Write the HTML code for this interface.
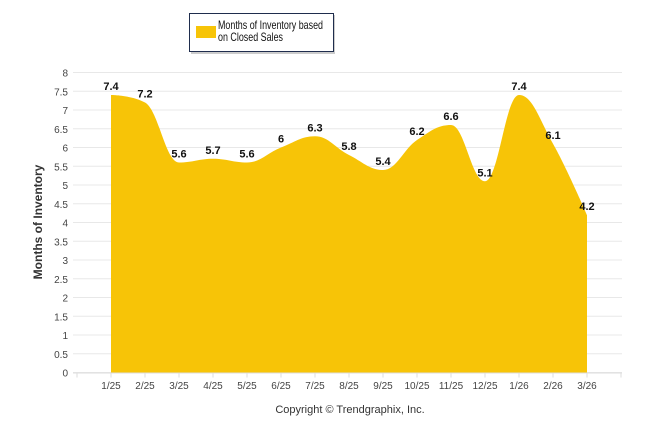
<!DOCTYPE html>
<html><head><meta charset="utf-8"><style>
body{margin:0;background:#fff;width:646px;height:434px;overflow:hidden;font-family:"Liberation Sans",sans-serif}
</style></head><body>
<svg width="646" height="434" xmlns="http://www.w3.org/2000/svg">
<g>
<rect x="191" y="15" width="144" height="39" fill="#ccc"/>
<rect x="189.5" y="13.5" width="144" height="38" fill="#fff" stroke="#1f2d4d" stroke-width="1"/>
<rect x="196" y="26" width="20" height="12" fill="#f7c407"/>
<text x="218" y="29" font-size="12" fill="#111" textLength="105" lengthAdjust="spacingAndGlyphs">Months of Inventory based</text>
<text x="218" y="41" font-size="12" fill="#111" textLength="65" lengthAdjust="spacingAndGlyphs">on Closed Sales</text>
</g>
<g id="grid"></g>
<path id="area" fill="#f7c407"/>
<g id="labels"></g>
<g id="xaxis"></g>
<g id="yaxis"></g>
<text x="42" y="222" font-size="12" font-weight="bold" fill="#333" text-anchor="middle" transform="rotate(-90 42 222)">Months of Inventory</text>
<text x="350" y="413" font-size="11" fill="#333" text-anchor="middle">Copyright © Trendgraphix, Inc.</text>
</svg>
<script>
const categories=["1/25","2/25","3/25","4/25","5/25","6/25","7/25","8/25","9/25","10/25","11/25","12/25","1/26","2/26","3/26"];
const values=[7.4,7.2,5.6,5.7,5.6,6,6.3,5.8,5.4,6.2,6.6,5.1,7.4,6.1,4.2];
const yTicks=[0,0.5,1,1.5,2,2.5,3,3.5,4,4.5,5,5.5,6,6.5,7,7.5,8];
const NS="http://www.w3.org/2000/svg";
const x0=77,step=34,yZero=372.5,perUnit=37.5;
const xs=i=>x0+step*(i+1);
const ys=v=>yZero-v*perUnit;
function mk(t,a,p){const e=document.createElementNS(NS,t);for(const k in a)e.setAttribute(k,a[k]);p.appendChild(e);return e;}
const grid=document.getElementById('grid'),ya=document.getElementById('yaxis'),xa=document.getElementById('xaxis'),lb=document.getElementById('labels');
yTicks.forEach(v=>{
 const l=mk('line',{x1:73,x2:622,y1:ys(v),y2:ys(v),stroke:'#e8e8e8'},grid);
 
 
 const t=mk('text',{x:68,y:ys(v)+4,'font-size':10,fill:'#444','text-anchor':'end'},ya);
 t.textContent=v;
 
 
});
mk('line',{x1:73,x2:622,y1:yZero+0.5,y2:yZero+0.5,stroke:'#ddd'},xa);
for(let k=0;k<=16;k++){mk('line',{x1:x0+step*k,x2:x0+step*k,y1:yZero,y2:yZero+5,stroke:'#ddd'},xa);}
categories.forEach((c,i)=>{
 const t=mk('text',{x:xs(i),y:389,'font-size':10,fill:'#444','text-anchor':'middle'},xa);
 t.textContent=c;
 
 
});
const pts=values.map((v,i)=>[xs(i),ys(v)]);
let d=`M${pts[0][0]},${yZero} L${pts[0][0]},${pts[0][1]}`;
const sm=1.5;
function ctrl(i){
 const p=pts[i],prev=pts[i-1],next=pts[i+1];
 if(!prev||!next)return [p,p];
 let lx=(sm*p[0]+prev[0])/(sm+1),ly=(sm*p[1]+prev[1])/(sm+1);
 let rx=(sm*p[0]+next[0])/(sm+1),ry=(sm*p[1]+next[1])/(sm+1);
 let corr=0;if(rx!==lx)corr=((ry-ly)*(rx-p[0]))/(rx-lx)+p[1]-ry;
 ly+=corr;ry+=corr;
 if(ly>prev[1]&&ly>p[1]){ly=Math.max(prev[1],p[1]);ry=2*p[1]-ly;}else if(ly<prev[1]&&ly<p[1]){ly=Math.min(prev[1],p[1]);ry=2*p[1]-ly;}
 if(ry>next[1]&&ry>p[1]){ry=Math.max(next[1],p[1]);ly=2*p[1]-ry;}else if(ry<next[1]&&ry<p[1]){ry=Math.min(next[1],p[1]);ly=2*p[1]-ry;}
 return [[lx,ly],[rx,ry]];
}
const cs=pts.map((p,i)=>ctrl(i));
for(let i=1;i<pts.length;i++){
 const a=cs[i-1][1],b=cs[i][0];
 d+=` C${a[0]},${a[1]} ${b[0]},${b[1]} ${pts[i][0]},${pts[i][1]}`;
}
d+=` L${pts[pts.length-1][0]},${yZero} Z`;
document.getElementById('area').setAttribute('d',d);
values.forEach((v,i)=>{
 const t=mk('text',{x:xs(i),y:ys(v)-5,'font-size':11,'font-weight':'bold',fill:'#111','text-anchor':'middle'},lb);
 t.textContent=v;
 
 
});
</script>
</body></html>
